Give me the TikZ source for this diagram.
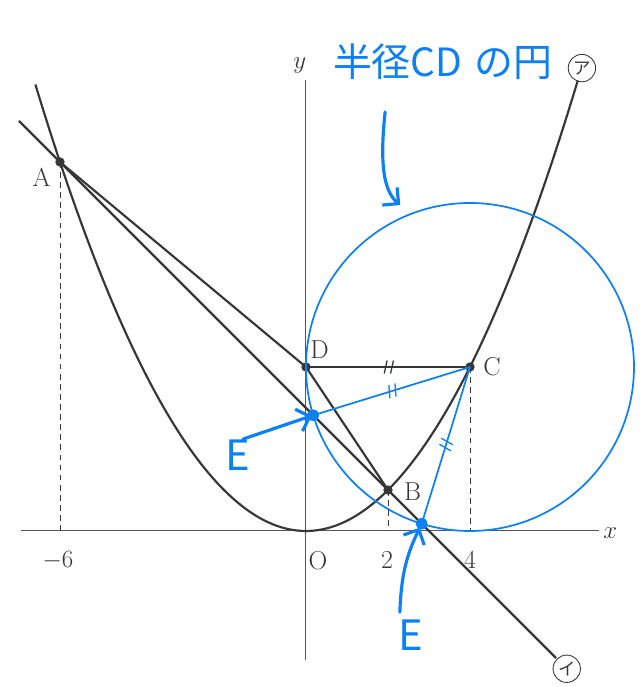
\documentclass[tikz,border=0pt]{standalone}
\usepackage{fontspec}
\usepackage{tikz}
\usetikzlibrary{arrows.meta,decorations.markings}
\newfontfamily\jpfont{Noto Sans CJK JP}
\definecolor{ink}{RGB}{55,55,55}
\definecolor{penblue}{RGB}{12,128,245}

\begin{document}
\begin{tikzpicture}[
    curve/.style={ink,line width=1.5pt},
    axis/.style={ink!85,line width=0.7pt},
    guide/.style={ink,line width=0.6pt,dash pattern=on 4pt off 3pt},
    pen/.style={penblue,line width=1.2pt},
    dot/.style={circle,fill=ink,inner sep=0pt,minimum size=6.5pt},
    bluedot/.style={circle,fill=penblue,inner sep=0pt,minimum size=8pt},
    lbl/.style={text=ink,font=\fontsize{18}{18}\selectfont},
    circnum/.style={circle,draw=ink,line width=0.6pt,inner sep=0pt,minimum size=19pt,
      text=ink,font=\jpfont\fontsize{12}{12}\selectfont},
    hand/.style={text=penblue,font=\jpfont\fontsize{27}{27}\selectfont},
    handarrow/.style={penblue,line width=2.2pt,line cap=round,
      -{Straight Barb[length=8pt,width=16pt,line width=2.2pt]}},
    twobars/.style={postaction={decorate,decoration={markings,mark=at position 0.5 with
      {\draw[#1,line width=0.9pt] (-2.6pt,-4.5pt) -- (-0.6pt,4.5pt) (1.8pt,-4.5pt) -- (3.8pt,4.5pt);}}}}
  ]
  \useasboundingbox (-7.463,-3.805) rectangle (8.244,12.951);

  % points
  \coordinate (O) at (0,0);
  \coordinate (A) at (-6,9);
  \coordinate (B) at (2,1);
  \coordinate (C) at (4,4);
  \coordinate (D) at (0,4);
  \coordinate (E1) at ({(3-sqrt(7))/2},{(3+sqrt(7))/2});
  \coordinate (E2) at ({(3+sqrt(7))/2},{(3-sqrt(7))/2});
  \coordinate (lineStart) at (-7,10);
  \coordinate (lineEnd) at (6.1,-3.1);

  % axes
  \draw[axis] (-6.95,0) -- (7.15,0);
  \draw[axis] (0,-3.15) -- (0,11.0);
  \node[lbl] (xlab) at (7.42,-0.05) {$x$};
  \node[lbl] (ylab) at (-0.15,11.34) {$y$};
  \node[lbl] (tick6) at (-6.05,-0.71) {$-6$};
  \node[lbl] (labO) at (0.29,-0.73) {O};
  \node[lbl] (tick2) at (1.98,-0.71) {2};
  \node[lbl] (tick4) at (4.0,-0.71) {4};

  % dashed guides
  \draw[guide] (A) -- (A |- O);
  \draw[guide] (B) -- (B |- O);
  \draw[guide] (C) -- (C |- O);

  % parabola and line
  \draw[curve] plot[domain=-6.6:6.63,samples=120] (\x,{\x*\x/4});
  \draw[curve] (lineStart) -- (lineEnd);
  \draw[curve] (A) -- (D) -- (B);
  \draw[curve,twobars=ink] (D) -- (C);
  \node[circnum] (parab) at (6.73,11.29) {ア};
  \node[circnum] (linei) at (6.36,-3.36) {イ};

  % labelled points
  \foreach \p in {A,B,C,D} \node[dot] at (\p) {};
  \node[lbl] (labA) at (-6.45,8.63) {A};
  \node[lbl] (labB) at (2.6,0.95) {B};
  \node[lbl] (labC) at (4.54,4.02) {C};
  \node[lbl] (labD) at (0.33,4.43) {D};

  % circle of radius CD, centre C
  \draw[pen] (C) circle (4);
  \draw[pen,twobars=penblue] (E1) -- (C);
  \draw[pen,twobars=penblue] (E2) -- (C);
  \node[bluedot] at (E1) {};
  \node[bluedot] at (E2) {};

  % notes
  \node[hand] (title) at (3.33,11.44) {半径CD\hspace{0.3em}の円};
  \coordinate (arrTop) at (1.93,10.22);
  \coordinate (arrTip) at (2.3,7.95);
  \draw[handarrow] (arrTop) .. controls (1.8,9.0) and (1.88,8.3) .. (arrTip);
  \node[hand,font=\jpfont\fontsize{29}{29}\selectfont] (labE1) at (-1.66,1.85) {E};
  \node[hand,font=\jpfont\fontsize{29}{29}\selectfont] (labE2) at (2.55,-2.55) {E};
  \draw[handarrow,shorten >=1pt] (-1.54,2.24) -- (E1);
  \draw[handarrow,shorten >=3pt] (2.29,-1.98) to[bend left=12] (E2);

\end{tikzpicture}
\end{document}
